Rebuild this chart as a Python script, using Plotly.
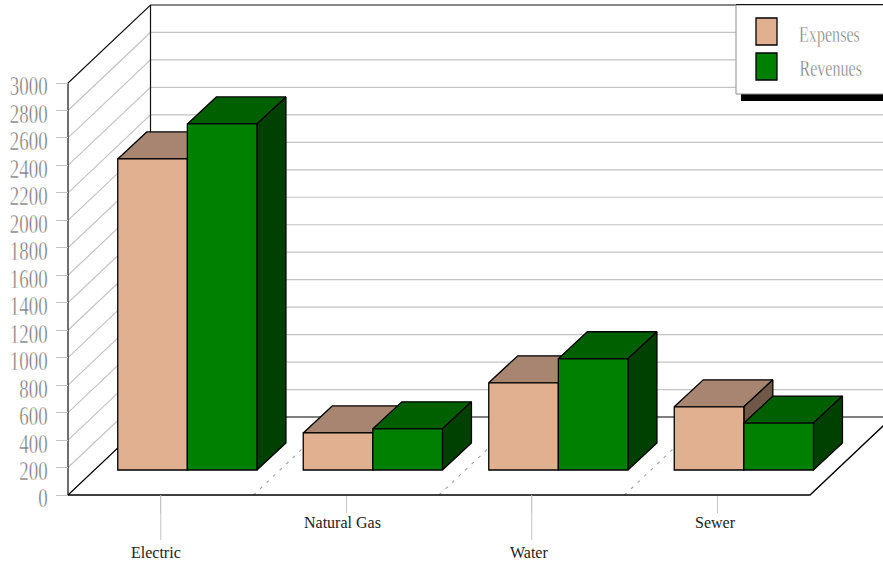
import plotly.graph_objects as go

categories = ["Electric", "Natural Gas", "Water", "Sewer"]
expenses = [2265, 270, 635, 460]
revenues = [2520, 300, 810, 342]
y_ticks = [0, 200, 400, 600, 800, 1000, 1200, 1400, 1600, 1800, 2000, 2200, 2400, 2600, 2800, 3000]

W, H = 883, 562
X0_PX, Y0_PX = 68, 495          # front-left floor corner
PX_PER_CAT = 185.5
PX_PER_UNIT = 412 / 3000
SERIF = "Liberation Serif"


def dx(px):
    return px / PX_PER_CAT


def dy(px):
    return px / PX_PER_UNIT


x_range = [-X0_PX / PX_PER_CAT, (W - X0_PX) / PX_PER_CAT]
y_range = [-(H - Y0_PX) / PX_PER_UNIT, Y0_PX / PX_PER_UNIT]
n_cat = len(categories)
wall_dx, wall_dy = dx(82.5), dy(78)
bar_w = dx(69.6)
bar_shift = dx(26.6)
bar_base = dy(25)
bar_dx, bar_dy = dx(29), dy(27)
top_val = y_ticks[-1]
GRID = "#c4c4c4"


def line(xs, ys, color, width=1.0, dash=None, z=0):
    return go.Scatter(x=xs, y=ys, mode="lines", hoverinfo="skip", showlegend=False,
                      line=dict(color=color, width=width, dash=dash), zorder=z)


def poly(xs, ys, color, z):
    return go.Scatter(x=xs, y=ys, mode="lines", fill="toself", fillcolor=color,
                      hoverinfo="skip", showlegend=False,
                      line=dict(color="black", width=1.3), zorder=z)


fig = go.Figure()

# Side and back wall gridlines
gx, gy = [], []
for t in y_ticks[1:-1]:
    gx += [0, wall_dx, x_range[1] + 1, None]
    gy += [t, t + wall_dy, t + wall_dy, None]
fig.add_trace(line(gx, gy, GRID, width=1.2))

# Dotted category separators on the floor
sx, sy = [], []
for i in range(1, n_cat):
    sx += [i, i + wall_dx, None]
    sy += [0, wall_dy, None]
fig.add_trace(line(sx, sy, "#a0a0a0", width=1.1, dash="3px,6px"))

# Wall and floor outline
fig.add_trace(line([0, 0, wall_dx, x_range[1] + 1], [0, top_val, top_val + wall_dy, top_val + wall_dy], "#111111", 1.2))
fig.add_trace(line([wall_dx, wall_dx], [wall_dy, top_val + wall_dy], "#111111", 1.2))
fig.add_trace(line([0, wall_dx, x_range[1] + 1], [0, wall_dy, wall_dy], "black", 1.2))
fig.add_trace(line([0, n_cat, n_cat + wall_dx], [0, 0, wall_dy], "black", 1.3))

# Long tick stubs for the lower row of category labels
lx, ly = [], []
for i in range(0, n_cat, 2):
    lx += [i + 0.5, i + 0.5, None]
    ly += [0, -dy(45), None]
fig.add_trace(line(lx, ly, GRID))

series = [
    ("Expenses", expenses, "#e0b090", "#a88570", "#705848", -bar_w / 2, 1),
    ("Revenues", revenues, "#008000", "#006000", "#004000", bar_w / 2, 3),
]
for name, values, front, top, side, offset, z in series:
    centers = [i + 0.5 + bar_shift + offset for i in range(n_cat)]
    for c, v in zip(centers, values):
        x0, x1, t = c - bar_w / 2, c + bar_w / 2, bar_base + v
        fig.add_trace(poly([x0, x1, x1 + bar_dx, x0 + bar_dx, x0],
                           [t, t, t + bar_dy, t + bar_dy, t], top, z))
        fig.add_trace(poly([x1, x1, x1 + bar_dx, x1 + bar_dx, x1],
                           [bar_base, t, t + bar_dy, bar_base + bar_dy, bar_base], side, z))
    fig.add_trace(go.Bar(x=centers, y=values, base=bar_base, width=bar_w, name=name,
                         marker=dict(color=front, line=dict(color="black", width=1.3)),
                         showlegend=False, zorder=z + 1))


def px_x(p):
    return p / W


def px_y(p):
    return 1 - p / H


def rect(x0, y0, x1, y1, fill, border=None, width=1.0):
    return dict(type="rect", xref="paper", yref="paper", layer="above",
                x0=px_x(x0), x1=px_x(x1), y0=px_y(y1), y1=px_y(y0), fillcolor=fill,
                line=dict(color=border or fill, width=width if border else 0))


shapes = [
    rect(741, 94, 890, 101, "black"),
    rect(736, 5, 890, 94, "white", "#8c8c8c"),
    dict(type="line", xref="paper", yref="paper", layer="above", x0=px_x(736), x1=1,
         y0=px_y(4.5), y1=px_y(4.5), line=dict(color="#111111", width=1.2)),
    rect(756, 18, 777, 45, series[0][2], "black", 1.3),
    rect(756, 53, 777, 80, series[1][2], "black", 1.3),
]

annotations = []
for text, cx, cy in [("Expenses", 829, 34), ("Revenues", 830, 68)]:
    annotations.append(dict(text=text, xref="paper", yref="paper", x=px_x(cx), y=px_y(cy),
                            xanchor="center", yanchor="middle", showarrow=False,
                            font=dict(family=SERIF, size=23, color="#777777")))

label_rows = [(552, -5), (522, -4), (552, -3), (522, -2)]
for i, (name, (row, shift)) in enumerate(zip(categories, label_rows)):
    annotations.append(dict(text=name, xref="x", yref="paper", x=i + 0.5, xshift=shift, y=px_y(row),
                            xanchor="center", yanchor="middle", showarrow=False,
                            font=dict(family=SERIF, size=16, color="#222222")))

fig.update_layout(
    width=W, height=H, margin=dict(l=0, r=0, t=0, b=0, autoexpand=False),
    paper_bgcolor="white", plot_bgcolor="white", showlegend=False, barmode="overlay",
    shapes=shapes, annotations=annotations,
    xaxis=dict(range=x_range, anchor="free", position=(H - Y0_PX) / H, showgrid=False, zeroline=False,
               showline=False, tickmode="array", tickvals=[i + 0.5 for i in range(n_cat)],
               ticks="outside", ticklen=17, tickcolor=GRID, tickwidth=1, showticklabels=False),
    yaxis=dict(range=y_range, anchor="free", position=X0_PX / W, showgrid=False, zeroline=False,
               showline=False, tickmode="array", tickvals=y_ticks, ticktext=[str(t) for t in y_ticks],
               ticks="outside", ticklen=12, tickcolor=GRID, tickwidth=1, ticklabelstandoff=3,
               tickfont=dict(family=SERIF, size=27, color="#777777")),
)

# The value labels and legend text use a condensed, hairline setting of the serif face.
condense = """
var gd = document.getElementById('{plot_id}');
function condense() {
  gd.querySelectorAll('.ytick text, .annotation-text').forEach(function (t) {
    var isNote = t.classList.contains('annotation-text');
    if (isNote && parseFloat(getComputedStyle(t).fontSize) < 20) return;
    if (t.dataset.squeezed) return;
    var x = parseFloat(t.getAttribute('x')) || 0, old = t.getAttribute('transform') || '';
    var drop = isNote ? 0 : 3;
    t.setAttribute('transform', old + ' translate(' + x + ',' + drop + ') scale(0.7,1) translate(' + (-x) + ',0)');
    t.style.stroke = 'white';
    t.style.strokeWidth = '0.45px';
    t.dataset.squeezed = '1';
  });
}
condense();
gd.on('plotly_afterplot', condense);
"""
fig.write_html("out.html", post_script=condense, config=dict(displayModeBar=False))
